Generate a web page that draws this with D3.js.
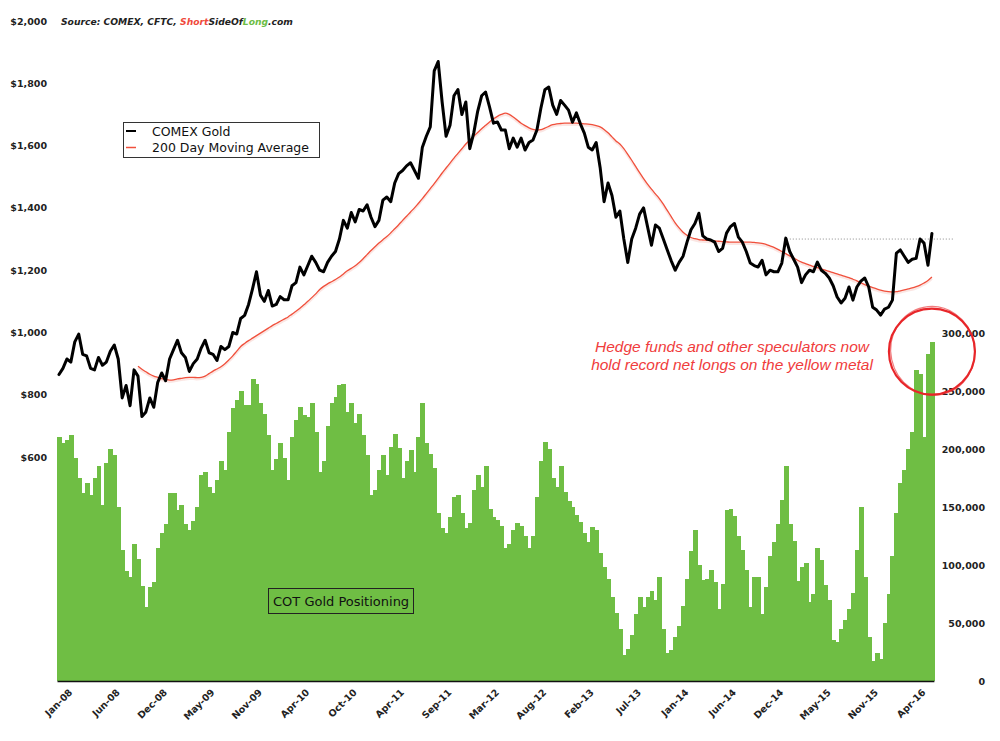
<!DOCTYPE html>
<html><head><meta charset="utf-8">
<script src="https://cdn.jsdelivr.net/npm/d3@7"></script>
<style>
html,body{margin:0;padding:0;background:#fff;}
svg{display:block;}
</style></head>
<body>
<svg id="chart" width="1000" height="741"></svg>
<script>
// ---------- DATA (bi-weekly observations, Jan-2008 .. Jun-2016) ----------
const tickLabels = ["Jan-08","Jun-08","Dec-08","May-09","Nov-09","Apr-10","Oct-10","Apr-11","Sep-11","Mar-12","Aug-12","Feb-13","Jul-13","Jan-14","Jun-14","Dec-14","May-15","Nov-15","Apr-16"];
const tickIndex = [0,12,24,36,48,60,72,84,96,108,120,132,144,156,168,180,192,204,216];

const goldPrice = [
 865,885,915,905,970,995,930,925,885,880,
 920,895,905,940,960,915,790,830,765,880,
 860,730,745,790,760,840,870,845,915,945,
 975,935,920,875,900,915,950,975,935,930,
 910,955,945,955,1000,995,1045,1055,1090,1140,
 1195,1120,1100,1135,1085,1090,1115,1105,1105,1150,
 1160,1210,1185,1215,1245,1225,1200,1195,1225,1245,
 1260,1300,1360,1335,1385,1355,1395,1390,1410,1370,
 1340,1360,1425,1435,1420,1480,1510,1520,1535,1545,
 1520,1495,1595,1630,1660,1840,1870,1740,1630,1665,
 1760,1780,1700,1740,1590,1640,1710,1760,1772,1724,
 1672,1676,1650,1650,1590,1624,1595,1624,1586,1610,
 1618,1650,1720,1779,1788,1730,1700,1745,1730,1714,
 1675,1705,1670,1640,1595,1586,1610,1530,1420,1480,
 1440,1370,1390,1300,1225,1300,1335,1380,1400,1340,
 1280,1345,1335,1300,1265,1230,1200,1225,1245,1290,
 1330,1350,1383,1310,1300,1297,1290,1260,1270,1319,
 1340,1350,1306,1290,1260,1223,1215,1210,1232,1185,
 1200,1195,1195,1223,1303,1260,1235,1210,1160,1185,
 1200,1195,1226,1200,1190,1175,1150,1114,1095,1110,
 1146,1104,1146,1165,1175,1146,1081,1072,1056,1075,
 1081,1104,1255,1265,1245,1225,1235,1238,1300,1287,
 1216,1318
];

const maStartIndex = 20;
const movingAvg = [
 892,882,874,866,860,856,852,849,847,848,
 851,853,855,856,856,855,856,860,868,876,
 883,890,900,912,925,940,955,965,974,982,
 990,998,1006,1014,1022,1029,1036,1043,1050,1059,
 1068,1078,1089,1100,1112,1124,1138,1148,1156,1163,
 1170,1178,1188,1198,1206,1214,1225,1237,1250,1263,
 1275,1287,1298,1308,1320,1333,1346,1360,1373,1387,
 1400,1415,1430,1446,1462,1478,1495,1512,1528,1544,
 1560,1575,1590,1605,1618,1630,1642,1654,1665,1676,
 1686,1694,1700,1704,1700,1692,1682,1672,1664,1657,
 1652,1650,1651,1656,1662,1667,1670,1671,1672,1672,
 1672,1672,1671,1670,1669,1667,1664,1660,1652,1641,
 1628,1615,1605,1590,1572,1553,1533,1513,1494,1476,
 1460,1445,1430,1412,1392,1372,1352,1336,1322,1312,
 1305,1301,1298,1297,1296,1295,1294,1293,1292,1291,
 1290,1290,1290,1290,1290,1290,1289,1288,1286,1283,
 1278,1273,1267,1260,1253,1246,1239,1232,1226,1221,
 1216,1212,1208,1204,1200,1196,1192,1188,1184,1180,
 1176,1171,1166,1160,1154,1149,1144,1140,1136,1133,
 1131,1130,1131,1134,1137,1140,1143,1147,1152,1159,
 1167,1178
];

// COT net speculative position, thousands of contracts
const cotNetLongK = [
 210,205,208,212,192,175,162,171,160,175,
 185,152,188,200,195,150,113,95,90,118,
 105,82,64,81,85,115,128,135,162,162,
 147,152,135,130,138,150,178,180,167,162,
 173,190,182,215,235,242,250,238,238,260,
 256,240,230,212,182,191,205,192,173,210,
 225,236,229,228,240,215,180,190,220,240,
 245,255,256,232,240,222,230,212,195,160,
 165,182,195,178,202,213,201,175,190,199,
 180,210,240,205,196,184,145,132,128,141,
 159,160,145,132,136,165,178,167,185,148,
 141,139,134,115,118,130,136,134,125,115,
 125,159,190,206,200,175,167,185,163,155,
 150,143,137,128,120,133,130,110,98,88,
 72,59,45,22,28,40,58,72,64,72,
 78,70,90,45,24,27,38,47,65,88,
 112,130,100,87,88,96,85,62,84,147,
 148,142,125,113,96,64,90,90,58,81,
 108,120,135,156,185,135,121,86,98,102,
 68,75,115,104,83,70,35,34,45,53,
 62,76,113,150,90,38,17,24,19,50,
 75,108,145,171,182,200,215,268,265,210,
 282,292
];

const leftTicks = [600,800,1000,1200,1400,1600,1800,2000];
const rightTicks = [0,50000,100000,150000,200000,250000,300000];
const resistanceLevel = 1300;
const resistanceFromIndex = 184;
const recordIndex = 221;

// ---------- CHART ----------
const svg = d3.select("#chart");
const N = goldPrice.length;
const xs = d3.scaleLinear().domain([0, N]).range([57, 57 + 3.95 * N]);
const yL = d3.scaleLinear().domain([0, 2000]).range([644, 21]);
const yR = d3.scaleLinear().domain([0, 300000]).range([681, 333]);

const axisFont = "DejaVu Sans, Verdana, sans-serif";
const axisSize = 9.5;

// bars
svg.append("g").attr("shape-rendering", "crispEdges")
  .selectAll("rect").data(cotNetLongK).join("rect")
  .attr("x", (d,i) => xs(i))
  .attr("width", (d,i) => xs(i+1) - xs(i) + 1)
  .attr("y", d => yR(d * 1000))
  .attr("height", d => yR(0) - yR(d * 1000))
  .attr("fill", "#6fbe44");

// x axis
const xAxis = d3.axisBottom(xs).tickValues(tickIndex)
  .tickFormat((d,i) => tickLabels[i]).tickSize(0).tickSizeOuter(0);
const gx = svg.append("g").attr("transform", `translate(0,${yR(0)})`).call(xAxis);
gx.select(".domain").attr("stroke", "#111").attr("stroke-width", 1.6);
gx.selectAll("text")
  .attr("y", null).attr("x", null).attr("dy", null)
  .attr("text-anchor", "end")
  .attr("transform", "translate(15.5,12) rotate(-45)")
  .attr("font-family", axisFont).attr("font-size", axisSize).attr("font-weight", "bold")
  .attr("fill", "#222");

// left axis
const gl = svg.append("g").attr("transform", "translate(47,0)")
  .call(d3.axisLeft(yL).tickValues(leftTicks).tickSize(0).tickPadding(0)
    .tickFormat(d => "$" + d3.format(",")(d)));
gl.select(".domain").remove();
gl.selectAll("text").attr("font-family", axisFont).attr("font-size", axisSize)
  .attr("font-weight", "bold").attr("fill", "#222");

// right axis
const gr = svg.append("g").attr("transform", "translate(985,0)")
  .call(d3.axisLeft(yR).tickValues(rightTicks).tickSize(0).tickPadding(0)
    .tickFormat(d3.format(",")));
gr.select(".domain").remove();
gr.selectAll("text").attr("font-family", axisFont).attr("font-size", axisSize)
  .attr("font-weight", "bold").attr("fill", "#222");

// dotted resistance line
svg.append("line")
  .attr("x1", xs(resistanceFromIndex)).attr("x2", 953)
  .attr("y1", yL(resistanceLevel)).attr("y2", yL(resistanceLevel))
  .attr("stroke", "#8a8a8a").attr("stroke-width", 1).attr("stroke-dasharray", "1,2");

// moving average
const maData = movingAvg.map((v,k) => [maStartIndex + k, v]);
const maLine = d3.line().x(d => xs(d[0] + 0.5)).y(d => yL(d[1])).curve(d3.curveMonotoneX);
svg.append("path").datum(maData).attr("d", maLine)
  .attr("fill", "none").attr("stroke", "#f6c8c0").attr("stroke-width", 2.5)
  .attr("opacity", 0.45).attr("transform", "translate(0,1.5)");
svg.append("path").datum(maData).attr("d", maLine)
  .attr("fill", "none").attr("stroke", "#f0503c").attr("stroke-width", 1.3);

// gold line
const goldLine = d3.line().x((d,i) => xs(i + 0.5)).y(d => yL(d));
svg.append("path").datum(goldPrice).attr("d", goldLine)
  .attr("fill", "none").attr("stroke", "#000").attr("stroke-width", 3)
  .attr("stroke-linejoin", "round").attr("stroke-linecap", "round");

// source text
const src = svg.append("text").attr("x", 61).attr("y", 25)
  .attr("font-family", axisFont).attr("font-size", 9.2).attr("font-weight", "bold")
  .attr("font-style", "italic").attr("fill", "#222");
src.append("tspan").text("Source: COMEX, CFTC, ");
src.append("tspan").attr("fill", "#f04a3c").text("Short");
src.append("tspan").text("SideOf");
src.append("tspan").attr("fill", "#6cbd45").text("Long");
src.append("tspan").text(".com");

// legend
const lg = svg.append("g");
lg.append("rect").attr("x", 123.5).attr("y", 122.5).attr("width", 196).attr("height", 35)
  .attr("fill", "#fff").attr("stroke", "#333").attr("stroke-width", 1);
lg.append("line").attr("x1", 126).attr("x2", 136).attr("y1", 131).attr("y2", 131)
  .attr("stroke", "#000").attr("stroke-width", 2);
lg.append("line").attr("x1", 126).attr("x2", 136).attr("y1", 147.5).attr("y2", 147.5)
  .attr("stroke", "#f0503c").attr("stroke-width", 1.5);
lg.append("text").attr("x", 152).attr("y", 135.5).text("COMEX Gold")
  .attr("font-family", axisFont).attr("font-size", 12.5).attr("fill", "#111");
lg.append("text").attr("x", 152).attr("y", 152).text("200 Day Moving Average")
  .attr("font-family", axisFont).attr("font-size", 12.5).attr("fill", "#111");

// COT label
const cg = svg.append("g");
cg.append("rect").attr("x", 268.5).attr("y", 588.5).attr("width", 145).attr("height", 25)
  .attr("fill", "none").attr("stroke", "#222").attr("stroke-width", 1);
cg.append("text").attr("x", 273).attr("y", 605.5).text("COT Gold Positioning")
  .attr("font-family", axisFont).attr("font-size", 13).attr("fill", "#111");

// annotation
const ann = svg.append("text").attr("text-anchor", "middle")
  .attr("font-family", "Liberation Sans, Arial, sans-serif").attr("font-size", 15.5)
  .attr("font-style", "italic").attr("fill", "#f03c3c");
ann.append("tspan").attr("x", 732).attr("y", 352).text("Hedge funds and other speculators now");
ann.append("tspan").attr("x", 732).attr("y", 370).text("hold record net longs on the yellow metal");

// hand-drawn circle around the record position
const cx = xs(recordIndex + 0.5), cy = yR(284000);
const circ = svg.append("g").attr("fill", "none").attr("stroke", "#e8262a");
circ.append("ellipse").attr("cx", cx).attr("cy", cy).attr("rx", 43).attr("ry", 43)
  .attr("stroke-width", 2.2);
circ.append("ellipse").attr("cx", cx + 1).attr("cy", cy - 0.5).attr("rx", 42).attr("ry", 44.5)
  .attr("stroke-width", 1.2).attr("opacity", 0.6)
  .attr("transform", `rotate(-12,${cx},${cy})`);
</script>
</body></html>
